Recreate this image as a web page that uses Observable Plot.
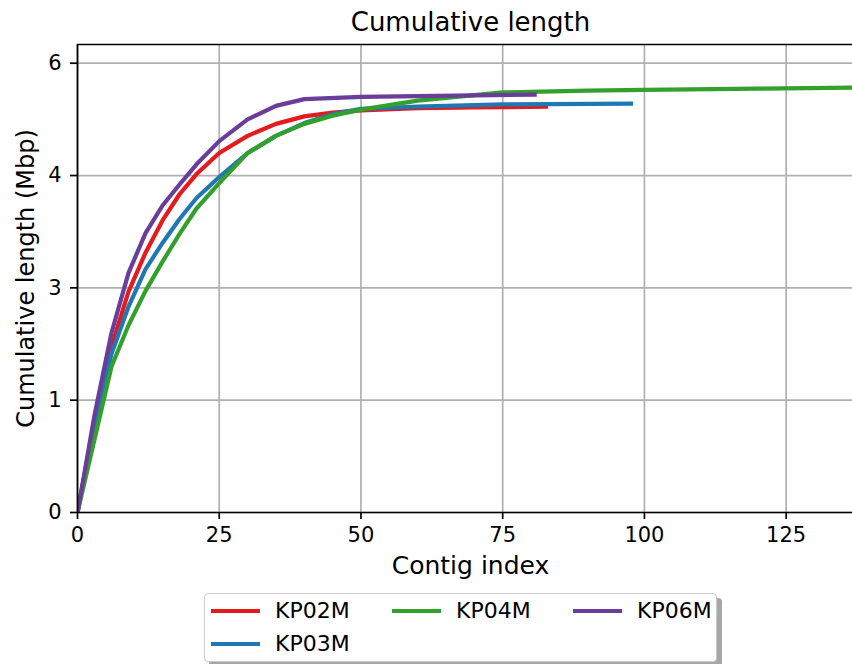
<!DOCTYPE html>
<html>
<head>
<meta charset="utf-8">
<script src="https://cdn.jsdelivr.net/npm/d3@7"></script>
<script src="https://cdn.jsdelivr.net/npm/@observablehq/plot@0.6"></script>
<style>
  html, body { margin: 0; padding: 0; background: #fff; }
  body { font-family: "DejaVu Sans", sans-serif; }
  #wrap { position: relative; width: 852px; height: 664px; overflow: hidden; background: #fff; }
  #legendBox { position: absolute; left: 204px; top: 593px; width: 511px; height: 67px;
    border: 1px solid #cccccc; border-radius: 4px; background: #fff;
    box-shadow: 5px 5px 0 rgba(0,0,0,0.35); }
  .lline { position: absolute; height: 4px; width: 49px; }
  .ltext { position: absolute; font-size: 22px; line-height: 24px; color: #000; white-space: nowrap; font-family: "DejaVu Sans", sans-serif; }
</style>
</head>
<body>
<div id="wrap"></div>
<script>
// ---- data ----
const seriesNames = ["KP02M", "KP03M", "KP04M", "KP06M"];
const seriesColors = ["#e41a1c", "#1f78b4", "#33a02c", "#6a3d9a"];

const xKP02M = [0, 3, 6, 9, 12, 15, 18, 21, 25, 30, 35, 40, 45, 50, 60, 70, 83];
const yKP02M = [0, 1.22, 2.22, 2.95, 3.47, 3.9, 4.25, 4.52, 4.8, 5.03, 5.19, 5.29, 5.34, 5.37, 5.40, 5.41, 5.42];

const xKP03M = [0, 3, 6, 9, 12, 15, 18, 21, 25, 30, 35, 40, 45, 50, 60, 75, 98];
const yKP03M = [0, 1.17, 2.12, 2.75, 3.25, 3.6, 3.92, 4.2, 4.48, 4.8, 5.03, 5.2, 5.32, 5.39, 5.42, 5.45, 5.46];

const xKP04M = [0, 6, 9, 12, 15, 18, 21, 25, 30, 35, 40, 45, 50, 60, 75, 90, 100, 120, 138];
const yKP04M = [0, 1.95, 2.5, 2.96, 3.35, 3.72, 4.06, 4.4, 4.8, 5.03, 5.19, 5.3, 5.38, 5.5, 5.61, 5.635, 5.645, 5.66, 5.675];

const xKP06M = [0, 3, 6, 9, 12, 15, 18, 21, 25, 30, 35, 40, 50, 60, 70, 81];
const yKP06M = [0, 1.3, 2.4, 3.2, 3.73, 4.1, 4.38, 4.65, 4.96, 5.25, 5.43, 5.52, 5.55, 5.56, 5.57, 5.58];

const xTicks = [0, 25, 50, 75, 100, 125];
const yTicks = [0, 1.5, 3, 4.5, 6];

const titleText = "Cumulative length";
const xLabelText = "Contig index";
const yLabelText = "Cumulative length (Mbp)";

// ---- build table ----
const xs = [xKP02M, xKP03M, xKP04M, xKP06M];
const ys = [yKP02M, yKP03M, yKP04M, yKP06M];
const rows = [];
seriesNames.forEach((name, i) => {
  xs[i].forEach((x, j) => rows.push({series: name, x, y: ys[i][j]}));
});

const axisCenterShift = 470 - (77 + 852) / 2;

const chart = Plot.plot({
  width: 852,
  height: 590,
  marginTop: 44,
  marginLeft: 77,
  marginRight: 0,
  marginBottom: 78,
  style: {fontFamily: "DejaVu Sans, sans-serif", background: "#fff", color: "#000", overflow: "visible"},
  x: {domain: [0, 136.7]},
  y: {domain: [0, 6.25]},
  color: {domain: seriesNames, range: seriesColors},
  marks: [
    Plot.gridX(xTicks, {stroke: "#b0b0b0", strokeOpacity: 1, strokeWidth: 1.7}),
    Plot.gridY(yTicks, {stroke: "#b0b0b0", strokeOpacity: 1, strokeWidth: 1.7}),
    Plot.line(rows, {x: "x", y: "y", z: "series", stroke: "series", strokeWidth: 4.2,
      strokeLinejoin: "round", strokeLinecap: "butt", clip: true}),
    Plot.ruleX([0], {stroke: "#000", strokeWidth: 1.7}),
    Plot.ruleY([0], {stroke: "#000", strokeWidth: 1.7}),
    Plot.ruleY([6.25], {stroke: "#000", strokeWidth: 1.7}),
    Plot.axisX({ticks: xTicks, tickSize: 7, tickPadding: 8, fontSize: 21, label: null,
      stroke: "#000", strokeWidth: 1.7, tickFormat: d => String(d)}),
    Plot.axisY({ticks: yTicks, tickSize: 7, tickPadding: 9, fontSize: 21, label: null,
      stroke: "#000", strokeWidth: 1.7, tickFormat: d => String(Math.trunc(d))}),
    Plot.text([titleText], {frameAnchor: "top", dy: -22, dx: axisCenterShift, fontSize: 26,
      lineAnchor: "middle", textAnchor: "middle", fill: "#000"}),
    Plot.text([xLabelText], {frameAnchor: "bottom", dy: 53.5, dx: axisCenterShift, fontSize: 25,
      lineAnchor: "middle", textAnchor: "middle", fill: "#000"}),
    Plot.text([yLabelText], {frameAnchor: "left", dx: -51, rotate: -90, fontSize: 24,
      lineAnchor: "middle", textAnchor: "middle", fill: "#000"})
  ]
});

const wrap = document.getElementById("wrap");
wrap.appendChild(chart);

// ---- legend ----
const box = document.createElement("div");
box.id = "legendBox";
wrap.appendChild(box);

const legendPos = [
  {lineX: 211, textX: 275, y: 611},
  {lineX: 211, textX: 275, y: 643.5},
  {lineX: 392, textX: 456, y: 611},
  {lineX: 573, textX: 637, y: 611}
];
seriesNames.forEach((name, i) => {
  const p = legendPos[i];
  const ln = document.createElement("div");
  ln.className = "lline";
  ln.style.left = p.lineX + "px";
  ln.style.top = (p.y - 2) + "px";
  ln.style.background = seriesColors[i];
  wrap.appendChild(ln);
  const tx = document.createElement("div");
  tx.className = "ltext";
  tx.style.left = p.textX + "px";
  tx.style.top = (p.y - 11.6) + "px";
  tx.textContent = name;
  wrap.appendChild(tx);
});
</script>
</body>
</html>
